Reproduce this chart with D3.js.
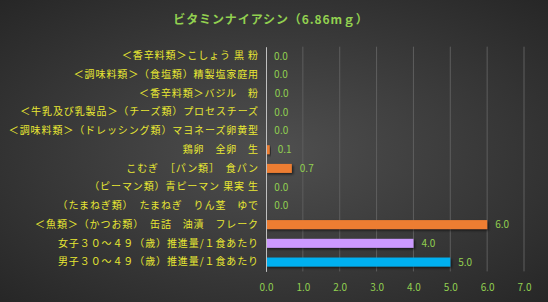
<!DOCTYPE html>
<html><head><meta charset="utf-8">
<script src="https://cdn.jsdelivr.net/npm/d3@7"></script>
<style>
html,body{margin:0;padding:0;background:#2b2b2b;}
svg{display:block;}
</style>
</head><body>
<svg id="c" width="548" height="302"></svg>
<script>
const categories = [
  "＜香辛料類＞こしょう 黒 粉",
  "＜調味料類＞（食塩類）精製塩家庭用",
  "＜香辛料類＞バジル　粉",
  "＜牛乳及び乳製品＞（チーズ類）プロセスチーズ",
  "＜調味料類＞（ドレッシング類）マヨネーズ卵黄型",
  "鶏卵　全卵　生",
  "こむぎ　［パン類］　食パン",
  "（ピーマン類）青ピーマン 果実 生",
  "（たまねぎ類）　たまねぎ　りん茎　ゆで",
  "＜魚類＞（かつお類）　缶詰　油漬　フレーク",
  "女子３０～４９（歳）推進量/１食あたり",
  "男子３０～４９（歳）推進量/１食あたり"
];
const values = [0.0, 0.0, 0.02, 0.01, 0.01, 0.1, 0.7, 0.01, 0.01, 6.0, 4.0, 5.0];
const barColors = ["#ED7D31","#ED7D31","#ED7D31","#ED7D31","#ED7D31","#ED7D31","#ED7D31","#ED7D31","#ED7D31","#ED7D31","#CC99FF","#00B0F0"];
const xTicks = [0,1,2,3,4,5,6,7];
const title = "ビタミンナイアシン（6.86mｇ）";

const svg = d3.select("#c");
const W = 548, H = 302;
const defs = svg.append("defs");
const rg = defs.append("radialGradient").attr("id","bg")
  .attr("cx","50%").attr("cy","50%").attr("r","75%");
rg.append("stop").attr("offset","0%").attr("stop-color","#4f4f4f");
rg.append("stop").attr("offset","100%").attr("stop-color","#242424");
const f = defs.append("filter").attr("id","sh").attr("x","-10%").attr("y","-30%").attr("width","130%").attr("height","180%");
f.append("feDropShadow").attr("dx",1.5).attr("dy",1.5).attr("stdDeviation",1).attr("flood-color","#000").attr("flood-opacity",0.6);

svg.append("rect").attr("width",W).attr("height",H).attr("fill","url(#bg)");

const font = "'Noto Sans CJK JP','Noto Sans',sans-serif";
svg.append("text").attr("x",271).attr("y",24).attr("text-anchor","middle")
  .attr("fill","#92D050").attr("font-family",font).attr("font-size",12).attr("font-weight","bold")
  .attr("letter-spacing","0.9px")
  .text(title);

const x = d3.scaleLinear().domain([0,7]).range([266,524]);
const y = d3.scaleBand().domain(categories).range([46.7,271.4]).paddingInner(0.52).paddingOuter(0.26);

// grid
svg.append("g").selectAll("line").data(xTicks.slice(1)).join("line")
  .attr("x1",d=>x(d)).attr("x2",d=>x(d)).attr("y1",46.7).attr("y2",271.4)
  .attr("stroke","#5e5e5e").attr("stroke-width",1);

// x axis labels
const xa = svg.append("g").attr("transform","translate(0,288)")
  .call(d3.axisBottom(x).tickValues(xTicks).tickFormat(d3.format(".1f")).tickSize(0).tickPadding(0));
xa.select(".domain").remove();
xa.selectAll("text").attr("fill","#92D050").attr("font-family",font).attr("font-size",10).attr("dy","0.32em").attr("y",0);

// bars
svg.append("g").selectAll("rect").data(values).join("rect")
  .attr("x",x(0)).attr("y",(d,i)=>y(categories[i]))
  .attr("width",d=>Math.max(0,x(d)-x(0))).attr("height",y.bandwidth())
  .attr("fill",(d,i)=>barColors[i]).attr("filter","url(#sh)");

// y axis
const ya = svg.append("g").attr("transform",`translate(${x(0)},0)`)
  .call(d3.axisLeft(y).tickSize(0).tickPadding(7));
ya.select(".domain").attr("stroke","#bfbfbf").attr("stroke-width",1);
ya.selectAll("text").attr("fill","#E8E832").attr("font-family",font).attr("font-size",10)
  .attr("letter-spacing","0.9px");

// value labels
svg.append("g").selectAll("text").data(values).join("text")
  .attr("x",d=>x(d)+8).attr("y",(d,i)=>y(categories[i])+y.bandwidth()/2)
  .attr("dy","0.35em").attr("fill","#92D050").attr("font-family",font).attr("font-size",10)
  .text(d=>d3.format(".1f")(d));
</script>
</body></html>
